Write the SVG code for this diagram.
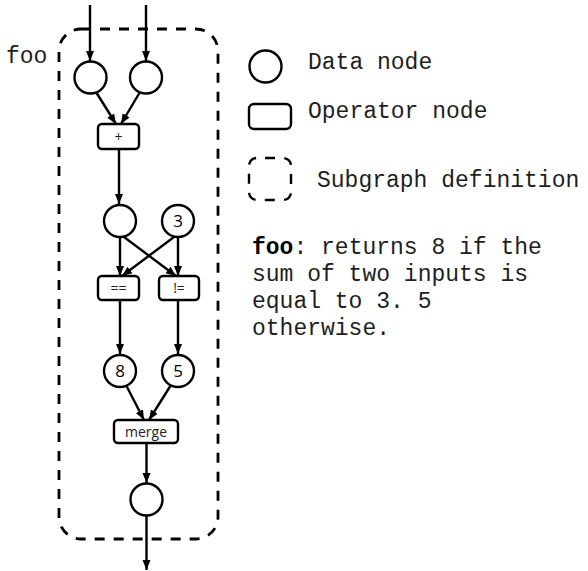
<svg xmlns="http://www.w3.org/2000/svg" width="588" height="571" viewBox="0 0 588 571">
  <style>
    .data { fill: #fff; stroke: #000; stroke-width: 2.4; }
    .op { fill: #fff; stroke: #000; stroke-width: 2.4; }
    .edge { fill: none; stroke: #000; stroke-width: 2.4; marker-end: url(#arrow); }
    .plain { fill: none; stroke: #000; stroke-width: 2.4; }
    .sub { fill: none; stroke: #000; stroke-width: 2.8; stroke-dasharray: 10 9; }
    .mono { font-family: "Liberation Mono", "Courier New", monospace; font-size: 23px; fill: #1e1e1e; }
    .lbl { font-family: "Open Sans", "Liberation Sans", sans-serif; font-size: 14px; fill: #222; text-anchor: middle; }
    .num { font-family: "Open Sans", "Liberation Sans", sans-serif; font-size: 17px; fill: #000; text-anchor: middle; }
  </style>
  <defs>
    <marker id="arrow" markerUnits="userSpaceOnUse" markerWidth="10" markerHeight="10" viewBox="0 0 10 10" refX="10" refY="5" orient="auto">
      <path d="M0,1 L10,5 L0,9 Z" fill="#000"/>
    </marker>
  </defs>
  <rect width="588" height="571" fill="#fff"/>

  <!-- subgraph boundary -->
  <g id="subgraph-foo">
    <rect class="sub" x="59" y="29" width="159" height="510" rx="22"/>
    <text class="mono" x="6" y="63">foo</text>
  </g>

  <!-- connectors -->
  <g id="connectors">
    <line class="edge" x1="90" y1="5" x2="90" y2="61"/>
    <line class="edge" x1="146" y1="5" x2="146" y2="61"/>
    <line class="edge" x1="96" y1="92" x2="116" y2="124"/>
    <line class="edge" x1="140" y1="92" x2="121" y2="124"/>
    <line class="edge" x1="119" y1="149" x2="119" y2="204"/>
    <line class="edge" x1="120" y1="237" x2="120" y2="276"/>
    <line class="edge" x1="178" y1="237" x2="178" y2="276"/>
    <line class="edge" x1="124" y1="237" x2="176" y2="276"/>
    <line class="edge" x1="174" y1="237" x2="122" y2="276"/>
    <line class="edge" x1="120" y1="300" x2="120" y2="354"/>
    <line class="edge" x1="178" y1="300" x2="178" y2="354"/>
    <line class="edge" x1="126" y1="385" x2="144" y2="420"/>
    <line class="edge" x1="171" y1="385" x2="149" y2="420"/>
    <line class="edge" x1="146.5" y1="443" x2="146.5" y2="483"/>
    <line class="edge" x1="146.5" y1="516" x2="146.5" y2="570"/>
  </g>

  <g id="in-a"><circle class="data" cx="90.5" cy="77.5" r="16"/></g>
  <g id="in-b"><circle class="data" cx="146" cy="77.5" r="16"/></g>
  <g id="op-add">
    <rect class="op" x="98" y="124" width="41" height="25" rx="4"/>
    <text class="lbl" x="118.5" y="142" font-size="16">+</text>
  </g>
  <g id="sum"><circle class="data" cx="120" cy="221" r="16"/></g>
  <g id="const-3">
    <circle class="data" cx="178" cy="221" r="16"/>
    <text class="num" x="178" y="227">3</text>
  </g>
  <g id="op-eq">
    <rect class="op" x="98" y="276" width="41" height="24" rx="4"/>
    <text class="lbl" x="118.5" y="293">==</text>
  </g>
  <g id="op-ne">
    <rect class="op" x="159" y="276" width="40" height="24" rx="4"/>
    <text class="lbl" x="179" y="293">!=</text>
  </g>
  <g id="const-8">
    <circle class="data" cx="120" cy="371" r="16"/>
    <text class="num" x="120" y="377">8</text>
  </g>
  <g id="const-5">
    <circle class="data" cx="178" cy="371" r="16"/>
    <text class="num" x="178" y="377">5</text>
  </g>
  <g id="op-merge">
    <rect class="op" x="114" y="420" width="64" height="23" rx="4"/>
    <text class="lbl" x="146" y="436.5">merge</text>
  </g>
  <g id="out"><circle class="data" cx="146.5" cy="499.5" r="16"/></g>

  <!-- legend -->
  <g id="legend-data">
    <circle class="data" cx="265.5" cy="66.5" r="16"/>
    <text class="mono" x="308" y="69">Data node</text>
  </g>
  <g id="legend-op">
    <rect class="op" x="249" y="104" width="42" height="25" rx="5"/>
    <text class="mono" x="308" y="118">Operator node</text>
  </g>
  <g id="legend-sub">
    <rect class="plain" x="249" y="158" width="42" height="42" rx="8" stroke-dasharray="10 9.29" stroke-dashoffset="-8"/>
    <text class="mono" x="317" y="187">Subgraph definition</text>
  </g>

  <!-- description -->
  <g id="description">
    <text class="mono" x="252" y="254"><tspan font-weight="bold" fill="#000">foo</tspan>: returns 8 if the</text>
    <text class="mono" x="252" y="281">sum of two inputs is</text>
    <text class="mono" x="252" y="308">equal to 3. 5</text>
    <text class="mono" x="252" y="335">otherwise.</text>
  </g>
</svg>
